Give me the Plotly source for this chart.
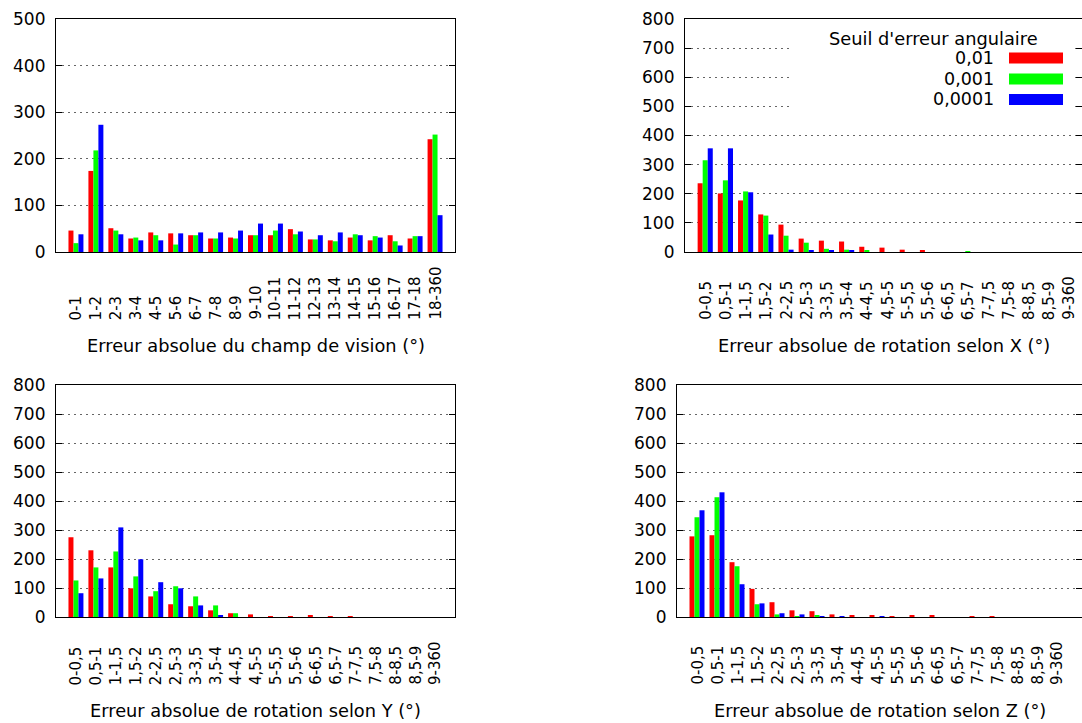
import plotly.graph_objects as go

W, H = 1082, 723

# ---------------- data ----------------
fov_cats = ["0-1", "1-2", "2-3", "3-4", "4-5", "5-6", "6-7", "7-8", "8-9", "9-10",
            "10-11", "11-12", "12-13", "13-14", "14-15", "15-16", "16-17", "17-18", "18-360"]
rot_cats = ["0-0,5", "0,5-1", "1-1,5", "1,5-2", "2-2,5", "2,5-3", "3-3,5", "3,5-4", "4-4,5",
            "4,5-5", "5-5,5", "5,5-6", "6-6,5", "6,5-7", "7-7,5", "7,5-8", "8-8,5", "8,5-9", "9-360"]
series_names = ["0,01", "0,001", "0,0001"]
series_colors = ["#ff0000", "#00ff00", "#0000ff"]

fov_001 = [46, 174, 51, 29, 42, 40, 36, 29, 31, 36, 36, 49, 27, 25, 31, 25, 36, 29, 242]
fov_0001 = [19, 218, 46, 31, 36, 16, 36, 29, 29, 36, 46, 38, 27, 23, 38, 34, 23, 34, 252]
fov_00001 = [38, 273, 38, 25, 25, 40, 42, 42, 46, 61, 61, 44, 36, 42, 36, 31, 14, 34, 79]

rotx_001 = [236, 201, 177, 129, 94, 46, 39, 36, 18, 15, 8, 5, 0, 0, 0, 0, 0, 0, 0]
rotx_0001 = [315, 246, 208, 125, 56, 32, 11, 8, 5, 0, 0, 0, 0, 1, 0, 0, 0, 0, 0]
rotx_00001 = [356, 356, 205, 60, 8, 5, 5, 5, 0, 0, 0, 0, 0, 0, 0, 0, 0, 0, 0]

roty_001 = [275, 230, 171, 99, 71, 44, 37, 23, 13, 9, 2, 2, 6, 2, 1, 0, 0, 0, 0]
roty_0001 = [126, 171, 226, 140, 89, 106, 71, 40, 13, 0, 0, 0, 0, 0, 0, 0, 0, 0, 0]
roty_00001 = [82, 133, 309, 199, 120, 99, 40, 6, 0, 0, 0, 0, 0, 0, 0, 0, 0, 0, 0]

rotz_001 = [278, 282, 189, 97, 51, 23, 20, 9, 6, 6, 2, 6, 6, 0, 2, 2, 0, 0, 0]
rotz_0001 = [344, 413, 175, 44, 9, 2, 6, 0, 0, 0, 0, 0, 0, 0, 0, 0, 0, 0, 0]
rotz_00001 = [368, 430, 113, 47, 13, 9, 2, 2, 0, 2, 0, 0, 0, 0, 0, 0, 0, 0, 0]

y_ticks_fov = [0, 100, 200, 300, 400, 500]
y_ticks_rot = [0, 100, 200, 300, 400, 500, 600, 700, 800]

titles = ["Erreur absolue du champ de vision (°)",
          "Erreur absolue de rotation selon X (°)",
          "Erreur absolue de rotation selon Y (°)",
          "Erreur absolue de rotation selon Z (°)"]
legend_title = "Seuil d'erreur angulaire"

panels = [
    dict(cats=fov_cats, vals=[fov_001, fov_0001, fov_00001], yt=y_ticks_fov,
         px=(56, 455), py=(19, 252), xr=[-1, 19]),
    dict(cats=rot_cats, vals=[rotx_001, rotx_0001, rotx_00001], yt=y_ticks_rot,
         px=(685, 1082), py=(19, 252), xr=[-1, 18.65]),
    dict(cats=rot_cats, vals=[roty_001, roty_0001, roty_00001], yt=y_ticks_rot,
         px=(56, 455), py=(385, 617), xr=[-1, 19]),
    dict(cats=rot_cats, vals=[rotz_001, rotz_0001, rotz_00001], yt=y_ticks_rot,
         px=(677, 1082), py=(385, 617), xr=[-1, 19.25]),
]

FONT = "DejaVu Sans"


def pxx(x):
    return x / W


def pxy(y):
    return 1 - y / H


fig = go.Figure()
annotations = []
layout = {}

for k, p in enumerate(panels):
    idx = "" if k == 0 else str(k + 1)
    xa, ya = "x" + idx, "y" + idx
    for s in range(3):
        fig.add_trace(go.Bar(x=p["cats"], y=p["vals"][s], name=series_names[s],
                             marker=dict(color=series_colors[s], line=dict(width=0)),
                             xaxis=xa, yaxis=ya, showlegend=False))
    layout["xaxis" + idx] = dict(
        domain=[pxx(p["px"][0]), min(1.0, pxx(p["px"][1]))],
        anchor=ya, type="category", categoryorder="array", categoryarray=p["cats"],
        range=p["xr"], showticklabels=False, ticks="", showgrid=False,
        showline=True, linecolor="black", linewidth=1.2, mirror=True, zeroline=False,
        automargin=False, fixedrange=True)
    layout["yaxis" + idx] = dict(
        domain=[pxy(p["py"][1]), pxy(p["py"][0])],
        anchor=xa, range=[0, p["yt"][-1]], tickvals=p["yt"],
        ticks="inside", ticklen=6, tickwidth=1, tickcolor="black",
        showline=True, linecolor="black", linewidth=1.2, mirror="ticks",
        showgrid=True, gridcolor="#666666", gridwidth=1, griddash="2px,4px",
        zeroline=False, ticklabelstandoff=6, automargin=False,
        tickfont=dict(family=FONT, size=17, color="black"), fixedrange=True)
    # category labels: rotated, anchored at bottom
    for i, c in enumerate(p["cats"]):
        annotations.append(dict(
            x=i, y=pxy(p["py"][1] + 70), xref=xa, yref="paper",
            text=c, textangle=-90, showarrow=False, xanchor="center", yanchor="bottom",
            font=dict(family=FONT, size=15, color="black")))
    # axis title
    cx = (p["px"][0] + min(p["px"][1], W)) / 2
    annotations.append(dict(
        x=pxx(cx), y=pxy(p["py"][1] + 93), xref="paper", yref="paper",
        text=titles[k], showarrow=False, xanchor="center", yanchor="middle",
        font=dict(family=FONT, size=17.8, color="black")))

# legend (inside top-right panel)
shapes = [dict(type="rect", xref="paper", yref="paper",
               x0=pxx(793), x1=pxx(1072), y0=pxy(112), y1=pxy(21),
               fillcolor="white", line=dict(width=0), layer="above")]
annotations.append(dict(x=pxx(933), y=pxy(38), xref="paper", yref="paper",
                        text=legend_title, showarrow=False, xanchor="center",
                        yanchor="middle", font=dict(family=FONT, size=17.8, color="black")))
leg_y = [58, 79, 99.5]
for s in range(3):
    annotations.append(dict(x=pxx(996), y=pxy(leg_y[s]), xref="paper", yref="paper",
                            text=series_names[s], showarrow=False, xanchor="right",
                            yanchor="middle",
                            font=dict(family=FONT, size=17.5, color="black")))
    shapes.append(dict(type="rect", xref="paper", yref="paper",
                       x0=pxx(1009), x1=pxx(1063),
                       y0=pxy(leg_y[s] + 5.5), y1=pxy(leg_y[s] - 5.5),
                       fillcolor=series_colors[s], line=dict(width=0), layer="above"))

fig.update_layout(
    width=W, height=H, margin=dict(l=0, r=0, t=0, b=0, pad=0), autosize=False,
    paper_bgcolor="white", plot_bgcolor="white",
    barmode="group", bargap=0.25, bargroupgap=0,
    showlegend=False, annotations=annotations, shapes=shapes,
    font=dict(family=FONT, color="black"),
    **layout)

fig.write_html("out.html", config=dict(displayModeBar=False),
               post_script="document.body.style.margin='0px';"
                           "document.body.style.overflow='hidden';")
